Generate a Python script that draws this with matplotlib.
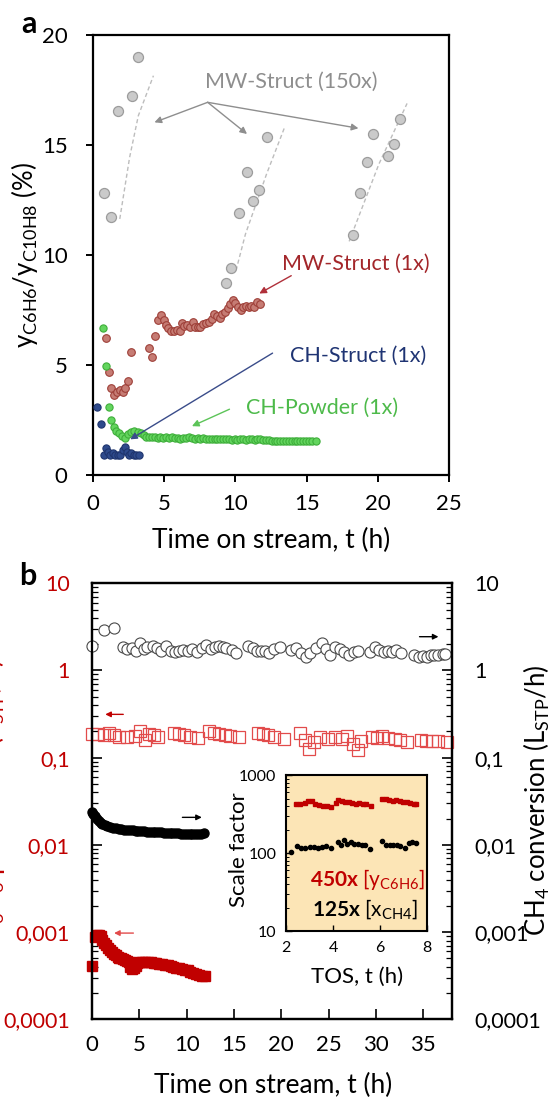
import numpy as np
import matplotlib
matplotlib.use("Agg")
import matplotlib.pyplot as plt
from matplotlib.ticker import FixedLocator, NullFormatter, LogLocator

plt.rcParams['font.family'] = ['Lato', 'DejaVu Sans']
plt.rcParams['mathtext.fontset'] = 'custom'
plt.rcParams['mathtext.rm'] = 'Lato'
plt.rcParams['mathtext.it'] = 'Lato:italic'
plt.rcParams['mathtext.bf'] = 'Lato:bold'

# ---------------- panel a data ----------------
mw150_t = [0.79, 1.28, 1.80, 2.73, 3.20,
           9.35, 9.71, 10.27, 10.82, 11.24, 11.68, 12.19,
           18.28, 18.77, 19.21, 19.68, 20.69, 21.15, 21.57]
mw150_v = [12.8, 11.74, 16.53, 17.24, 19.0,
           8.72, 9.41, 11.9, 13.79, 12.45, 12.95, 15.38,
           10.9, 12.8, 14.24, 15.5, 14.5, 15.03, 16.2]

# dashed guides through the three MW-Struct (150x) groups
guide1_t = [1.90, 2.59, 3.20, 4.26]
guide1_v = [11.64, 14.44, 16.33, 18.15]
guide2_t = [10.05, 10.71, 12.19, 13.47]
guide2_v = [9.30, 10.95, 13.68, 15.83]
guide3_t = [17.98, 20.07, 22.04]
guide3_v = [10.62, 14.14, 16.89]

mw1_t = [0.96, 1.12, 1.29, 1.47, 1.71, 1.94, 2.13, 2.29, 2.50, 2.66,
         3.97, 4.18, 4.35, 4.60, 4.81, 4.98, 5.12, 5.28, 5.49, 5.72,
         5.91, 6.10, 6.26, 6.43, 6.61, 6.85, 7.03, 7.20, 7.38, 7.55,
         7.73, 7.92, 8.13, 8.36, 8.53, 8.71, 8.90, 9.09, 9.28, 9.46,
         9.65, 9.84, 10.00, 10.19, 10.37, 10.56, 10.75, 10.93, 11.12, 11.30,
         11.50, 11.70]
mw1_v = [6.21, 4.67, 3.94, 3.64, 3.76, 3.86, 3.79, 3.94, 4.26, 5.59,
         5.77, 5.35, 6.32, 7.05, 7.27, 7.05, 6.82, 6.67, 6.56, 6.55,
         6.59, 6.53, 6.92, 6.77, 6.82, 6.74, 6.94, 6.74, 6.74, 6.74,
         6.86, 6.92, 6.97, 7.09, 7.32, 7.23, 7.15, 7.30, 7.42, 7.58,
         7.76, 7.95, 7.80, 7.65, 7.50, 7.62, 7.68, 7.65, 7.70, 7.62,
         7.85, 7.78]

chs_t = [0.30, 0.58, 0.77, 0.93, 1.05, 1.24, 1.40, 1.59, 1.75, 1.94,
         2.10, 2.24, 2.41, 2.57, 2.71, 2.87, 3.06, 3.25]
chs_v = [3.11, 2.33, 0.91, 1.21, 1.06, 0.91, 0.98, 0.91, 0.91, 0.91,
         1.14, 1.29, 1.06, 0.91, 0.98, 0.91, 0.91, 0.91]

chp_t = [0.70, 0.96, 1.12, 1.29, 1.47, 1.66, 1.87, 2.08, 2.29, 2.48,
         2.69, 2.92, 3.15, 3.39, 3.57, 3.76,
         3.95, 4.15, 4.35, 4.55, 4.75, 4.95, 5.15, 5.35, 5.55, 5.75,
         5.95, 6.15, 6.35, 6.55, 6.75, 6.95, 7.15, 7.35, 7.55, 7.75,
         7.95, 8.15, 8.35, 8.55, 8.75, 8.95, 9.15, 9.35, 9.55, 9.75,
         9.95, 10.15, 10.35, 10.55, 10.75, 10.95, 11.15, 11.35, 11.55, 11.75,
         11.95, 12.15, 12.35, 12.55, 12.75, 12.95, 13.15, 13.35, 13.55, 13.75,
         13.95, 14.15, 14.35, 14.55, 14.75, 14.95, 15.15, 15.35, 15.65]
chp_v = [6.67, 4.95, 3.11, 2.50, 2.17, 2.02, 1.89, 1.77, 1.70, 1.86,
         1.95, 1.98, 1.95, 1.92, 1.82, 1.74,
         1.74, 1.72, 1.72, 1.70, 1.71, 1.70, 1.71, 1.70, 1.72, 1.70,
         1.69, 1.64, 1.66, 1.70, 1.72, 1.66, 1.65, 1.66, 1.64, 1.66,
         1.65, 1.62, 1.64, 1.63, 1.62, 1.63, 1.62, 1.63, 1.62, 1.60,
         1.62, 1.58, 1.62, 1.63, 1.60, 1.62, 1.63, 1.60, 1.62, 1.63,
         1.60, 1.57, 1.60, 1.56, 1.55, 1.56, 1.55, 1.56, 1.55, 1.54,
         1.55, 1.55, 1.54, 1.55, 1.54, 1.55, 1.54, 1.54, 1.55]

# ---------------- panel b data ----------------
conv_open_t = [0.0, 1.30, 2.33,
               3.26, 3.70, 4.19, 4.67, 5.11, 5.48, 5.85, 6.41, 6.89, 7.33,
               7.81, 8.33, 8.74, 9.19, 9.63, 10.11, 10.59, 11.11, 11.59, 12.07,
               12.52, 12.96, 13.44, 13.81, 14.19, 14.74, 15.22,
               16.48, 16.96, 17.41, 17.81, 18.26, 18.74, 19.19, 19.81,
               21.04, 21.59, 22.07, 22.59, 23.07, 23.63, 24.30, 24.74, 25.19, 25.67,
               26.15, 26.59, 27.15, 27.70, 28.07,
               29.37, 29.85, 30.37, 30.85, 31.30, 31.70, 32.15, 32.63,
               34.00, 34.56, 35.00, 35.41, 35.78, 36.15, 36.59, 37.04, 37.26]
conv_open_v = [1.91, 2.92, 3.10,
               1.84, 1.75, 1.80, 1.69, 2.05, 1.75, 1.84, 1.91, 1.80, 1.69,
               1.91, 1.69, 1.64, 1.69, 1.72, 1.69, 1.75, 1.64, 1.80, 1.98,
               1.75, 1.84, 1.91, 1.84, 1.80, 1.72, 1.57,
               1.91, 1.80, 1.69, 1.69, 1.69, 1.60, 1.75, 1.84,
               1.72, 1.80, 1.57, 1.42, 1.60, 1.80, 2.05, 1.75, 1.51, 1.84,
               1.75, 1.64, 1.51, 1.64, 1.69,
               1.64, 1.84, 1.72, 1.64, 1.69, 1.64, 1.72, 1.60,
               1.51, 1.44, 1.47, 1.44, 1.51, 1.51, 1.51, 1.53, 1.53]

prod_open_t = [0.0, 0.67, 1.22, 1.78, 2.33, 2.89, 3.70, 4.56, 5.11, 5.56,
               6.04, 6.59, 6.96, 8.63, 9.19, 9.74, 10.30, 11.22, 12.33, 12.89,
               13.44, 14.00, 14.56, 15.48, 17.52, 18.07, 18.63, 19.19, 20.30, 21.96,
               22.52, 22.96, 23.44, 24.07, 24.93, 25.67, 26.41, 26.96, 27.52, 28.07,
               28.44, 29.56, 30.11, 30.67, 31.22, 31.96, 32.52, 33.26, 34.74, 35.30,
               35.93, 36.59, 37.52]
prod_open_v = [0.185, 0.185, 0.182, 0.190, 0.180, 0.174, 0.174, 0.177, 0.200, 0.158,
               0.185, 0.182, 0.174, 0.193, 0.185, 0.182, 0.174, 0.169, 0.200, 0.190,
               0.185, 0.183, 0.177, 0.171, 0.193, 0.185, 0.182, 0.174, 0.162, 0.190,
               0.160, 0.125, 0.150, 0.174, 0.162, 0.174, 0.166, 0.177, 0.143, 0.122,
               0.156, 0.174, 0.170, 0.177, 0.170, 0.166, 0.160, 0.150, 0.160, 0.156,
               0.156, 0.156, 0.150]

conv_fill_t = [0.0, 0.15, 0.3, 0.5, 0.7, 0.9, 1.1, 1.35, 1.6, 1.9,
               2.2, 2.5, 2.8, 3.1, 3.4, 3.7, 4.0, 4.3, 4.6, 4.9,
               5.2, 5.5, 5.8, 6.1, 6.4, 6.7, 7.0, 7.3, 7.6, 7.9,
               8.2, 8.5, 8.8, 9.1, 9.4, 9.7, 10.0, 10.3, 10.6, 10.9,
               11.2, 11.5, 11.8]
conv_fill_v = [0.0241, 0.0225, 0.0213, 0.0200, 0.0189, 0.0180, 0.0173, 0.0167, 0.0163, 0.0159,
               0.0157, 0.0155, 0.0153, 0.0152, 0.0150, 0.0148, 0.0148, 0.0147, 0.0146, 0.0145,
               0.0144, 0.0143, 0.0142, 0.0142, 0.0141, 0.0140, 0.0139, 0.0139, 0.0138, 0.0138,
               0.0137, 0.0137, 0.0136, 0.0136, 0.0135, 0.0134, 0.0134, 0.0133, 0.0133, 0.0132,
               0.0132, 0.0134, 0.0136]

prod_fill_t = [0.05, 0.3, 0.5, 0.7, 0.9, 1.1, 1.3, 1.5, 1.7, 1.9,
               2.1, 2.3, 2.5, 2.7, 2.9, 3.1, 3.3, 3.5, 3.7, 3.9,
               4.0, 4.2, 4.4, 4.6, 4.8, 5.0, 5.3, 5.6, 5.9, 6.2,
               6.5, 6.8, 7.1, 7.4, 7.7, 8.0, 8.3, 8.6, 8.9, 9.2,
               9.5, 9.8, 10.1, 10.4, 10.7, 11.0, 11.3, 11.6, 11.9]
prod_fill_v = [0.00041, 0.00088, 0.00092, 0.00093, 0.00090, 0.00082, 0.00076, 0.00071, 0.00066, 0.00063,
               0.00059, 0.00056, 0.00054, 0.00052, 0.00051, 0.00050, 0.00049, 0.00048, 0.00047, 0.00046,
               0.00040, 0.00038, 0.00039, 0.00041, 0.00044, 0.00045, 0.00046, 0.00046, 0.00045, 0.00045,
               0.00044, 0.00044, 0.00043, 0.00043, 0.00042, 0.00042, 0.00041, 0.00040, 0.00039, 0.00039,
               0.00038, 0.00037, 0.00037, 0.00035, 0.00034, 0.00033, 0.00032, 0.00031, 0.00031]

# inset: scale factors
inset_red_t = [2.42, 2.58, 2.80, 2.95, 3.10, 3.25, 3.40, 3.58, 3.73, 3.90,
               4.12, 4.22, 4.37, 4.52, 4.67, 4.82, 4.97, 5.12, 5.27, 5.42, 5.60,
               6.06, 6.24, 6.39, 6.54, 6.69, 6.84, 6.99, 7.14, 7.29, 7.44, 7.54]
inset_red_v = [420, 420, 440, 470, 460, 430, 410, 400, 395, 390,
               440, 485, 465, 455, 455, 440, 430, 440, 430, 420, 400,
               490, 490, 480, 470, 480, 470, 455, 445, 435, 425, 420]
inset_blk_t = [2.22, 2.45, 2.64, 2.82, 3.00, 3.19, 3.34, 3.54, 3.72, 3.90,
               4.19, 4.34, 4.46, 4.61, 4.76, 4.91, 5.06, 5.21, 5.36, 5.58,
               6.10, 6.25, 6.40, 6.55, 6.70, 6.85, 7.07, 7.22, 7.37, 7.52]
inset_blk_v = [104, 122, 116, 116, 118, 119, 116, 119, 122, 116,
               137, 128, 148, 131, 137, 131, 131, 128, 125, 112,
               141, 128, 125, 125, 125, 122, 116, 134, 137, 134]

b_left_ticks = [1e-4, 1e-3, 1e-2, 1e-1, 1, 10]
b_tick_labels = ['0,0001', '0,001', '0,01', '0,1', '1', '10']

RED = '#C00000'


def draw_panel_a(fig):
    ax = fig.add_axes([0.1685, 0.567, 0.6484, 0.4011])

    # dashed guides for the 150x groups
    for gt, gv in [(guide1_t, guide1_v), (guide2_t, guide2_v), (guide3_t, guide3_v)]:
        ax.plot(gt, gv, color='#BDBDBD', lw=1.0, ls=(0, (3, 2)), zorder=1)

    ax.plot(mw150_t, mw150_v, 'o', ms=7.2, mfc='#CACACA', mec='#9C9C9C', mew=0.9, zorder=3)
    ax.plot(mw1_t, mw1_v, 'o', ms=5.5, mfc='#C67C74', mec='#9E3F38', mew=0.8, zorder=3)
    ax.plot(chs_t, chs_v, 'o', ms=5.2, mfc='#2E4A8C', mec='#1F356E', mew=0.8, zorder=3)
    ax.plot(chp_t, chp_v, 'o', ms=5.2, mfc='#63D55E', mec='#3EAE3A', mew=0.8, zorder=4)

    # annotations
    grey = '#8E8E8E'
    ax.text(13.89, 17.88, 'MW-Struct (150x)', color=grey, fontsize=15.5, ha='center', va='center')
    for hx, hy in [(4.33, 16.03), (10.82, 15.5), (18.63, 15.76)]:
        ax.annotate('', xy=(hx, hy), xytext=(8.06, 16.94),
                    arrowprops=dict(arrowstyle='-|>', color=grey, lw=1.0, mutation_scale=10,
                                    shrinkA=0, shrinkB=0))

    ax.text(18.47, 9.59, 'MW-Struct (1x)', color='#A3262A', fontsize=15.5, ha='center', va='center')
    ax.annotate('', xy=(11.68, 8.25), xytext=(13.92, 9.06),
                arrowprops=dict(arrowstyle='-|>', color='#B0303A', lw=1.0, mutation_scale=10,
                                shrinkA=0, shrinkB=0))

    ax.text(18.61, 5.40, 'CH-Struct (1x)', color='#1F3473', fontsize=15.5, ha='center', va='center')
    ax.annotate('', xy=(2.63, 1.62), xytext=(12.61, 5.54),
                arrowprops=dict(arrowstyle='-|>', color='#3A4C8A', lw=1.0, mutation_scale=10,
                                shrinkA=0, shrinkB=0), zorder=5)

    ax.text(16.1, 3.04, 'CH-Powder (1x)', color='#4DBA4A', fontsize=15.5, ha='center', va='center')
    ax.annotate('', xy=(6.96, 2.22), xytext=(9.59, 2.99),
                arrowprops=dict(arrowstyle='-|>', color='#5CC458', lw=1.0, mutation_scale=10,
                                shrinkA=0, shrinkB=0))

    ax.set_xlim(0, 25)
    ax.set_ylim(0, 20)
    ax.set_xticks([0, 5, 10, 15, 20, 25])
    ax.set_yticks([0, 5, 10, 15, 20])
    ax.tick_params(direction='out', length=5, width=1.4, labelsize=16, pad=9)
    ax.tick_params(axis='y', pad=13)
    for sp in ax.spines.values():
        sp.set_linewidth(1.6)

    ax.set_xlabel('Time on stream, t (h)', fontsize=19, va='center')
    ax.xaxis.set_label_coords(0.5, -0.148)
    ax.set_ylabel(r'y$\mathregular{_{C6H6}}$/y$\mathregular{_{C10H8}}$ (%)', fontsize=18.5, va='center')
    ax.yaxis.set_label_coords(-0.19, 0.5)
    return ax


def style_log_axis(axis_obj, side, labelcolor):
    axis_obj.set_yscale('log')
    axis_obj.set_ylim(1e-4, 10)
    axis_obj.yaxis.set_major_locator(FixedLocator(b_left_ticks))
    axis_obj.yaxis.set_minor_locator(LogLocator(base=10, subs=np.arange(2, 10)))
    axis_obj.yaxis.set_minor_formatter(NullFormatter())
    axis_obj.set_yticklabels(b_tick_labels)
    axis_obj.tick_params(axis='y', which='major', direction='in', length=7, width=1.2,
                         labelsize=15.5, labelcolor=labelcolor, pad=16,
                         left=(side == 'left'), right=(side == 'right'),
                         labelleft=(side == 'left'), labelright=(side == 'right'))
    axis_obj.tick_params(axis='y', which='minor', direction='in', length=4, width=0.9,
                         left=(side == 'left'), right=(side == 'right'))


def draw_panel_b(fig):
    ax = fig.add_axes([0.1673, 0.0708, 0.654, 0.3975])
    ax.set_xlim(0, 38)
    style_log_axis(ax, 'left', RED)
    ax2 = ax.twinx()
    ax2.set_xlim(0, 38)
    style_log_axis(ax2, 'right', 'black')

    ax.plot(prod_open_t, prod_open_v, 's', ms=8, mfc='none', mec='#E24B4B', mew=0.9, clip_on=False)
    ax.plot(prod_fill_t, prod_fill_v, 's', ms=6.8, color=RED, mec=RED, clip_on=False)
    ax2.plot(conv_open_t, conv_open_v, 'o', ms=8, mfc='white', mec='#4A4A4A', mew=0.8, clip_on=False)
    ax2.plot(conv_fill_t, conv_fill_v, 'o', ms=6.5, color='black', clip_on=False)

    # arrows showing which axis each series belongs to
    arr = dict(arrowstyle='-|>', lw=1.0, mutation_scale=8, shrinkA=0, shrinkB=0)
    ax2.annotate('', xy=(36.6, 2.44), xytext=(34.6, 2.44), arrowprops=dict(arr, color='black'))
    ax.annotate('', xy=(1.4, 0.314), xytext=(3.3, 0.314), arrowprops=dict(arr, color=RED))
    ax2.annotate('', xy=(11.6, 0.0207), xytext=(9.55, 0.0207), arrowprops=dict(arr, color='black'))
    ax.annotate('', xy=(2.33, 0.000975), xytext=(4.37, 0.000975), arrowprops=dict(arr, color='#E24B4B'))

    ax.set_xticks([0, 5, 10, 15, 20, 25, 30, 35])
    ax.tick_params(axis='x', direction='in', length=7, width=1.2, labelsize=16, pad=11)
    for a in (ax, ax2):
        for sp in a.spines.values():
            sp.set_linewidth(1.6)

    ax.set_xlabel('Time on stream, t (h)', fontsize=19, va='center')
    ax.xaxis.set_label_coords(0.503, -0.151)

    fig.text(537 / 550, 1 - 800 / 1097, r'CH$\mathregular{_4}$ conversion (L$\mathregular{_{STP}}$/h)',
             rotation=90, ha='center', va='center', fontsize=18.5)
    # left label is mostly cut off in the original figure
    fig.text(-8 / 550, 1 - 800 / 1097, r'C$\mathregular{_6}$H$\mathregular{_6}$ production (L$\mathregular{_{STP}}$/h)',
             rotation=90, ha='center', va='center', fontsize=18.5, color=RED)

    # inset with scale factors
    axi = fig.add_axes([0.52, 0.1513, 0.2567, 0.1422])
    axi.set_facecolor('#FCE5B6')
    axi.set_yscale('log')
    axi.set_xlim(2, 8)
    axi.set_ylim(10, 1000)
    axi.plot(inset_red_t, inset_red_v, 's', ms=3.4, color=RED)
    axi.plot(inset_blk_t, inset_blk_v, 'o', ms=3.0, color='black')
    axi.set_xticks([2, 4, 6, 8])
    axi.yaxis.set_major_locator(FixedLocator([10, 100, 1000]))
    axi.set_yticklabels(['10', '100', '1000'])
    axi.yaxis.set_minor_formatter(NullFormatter())
    axi.tick_params(which='major', direction='in', length=4, width=1.0, labelsize=11.5, pad=7)
    axi.tick_params(which='minor', direction='in', length=2.5, width=0.7)
    for sp in axi.spines.values():
        sp.set_linewidth(1.5)
    axi.text(0.985, 0.333, r'$\mathbf{450x}$ [y$\mathregular{_{C6H6}}$]', color=RED, fontsize=15,
             ha='right', va='center', transform=axi.transAxes)
    axi.text(0.935, 0.141, r'$\mathbf{125x}$ [x$\mathregular{_{CH4}}$]', color='black', fontsize=15,
             ha='right', va='center', transform=axi.transAxes)
    axi.set_xlabel('TOS, t (h)', fontsize=16, va='center')
    axi.xaxis.set_label_coords(0.5, -0.293)
    axi.set_ylabel('Scale factor', fontsize=16, va='center')
    axi.yaxis.set_label_coords(-0.33, 0.52)
    return ax


def main():
    fig = plt.figure(figsize=(5.5, 10.97), dpi=100)
    draw_panel_a(fig)
    draw_panel_b(fig)
    fig.text(29 / 550, 1 - 33 / 1097, 'a', fontsize=22, fontweight='bold', ha='center', va='baseline')
    fig.text(28 / 550, 1 - 585 / 1097, 'b', fontsize=22, fontweight='bold', ha='center', va='baseline')
    fig.savefig('out.png', dpi=100)


if __name__ == '__main__':
    main()
